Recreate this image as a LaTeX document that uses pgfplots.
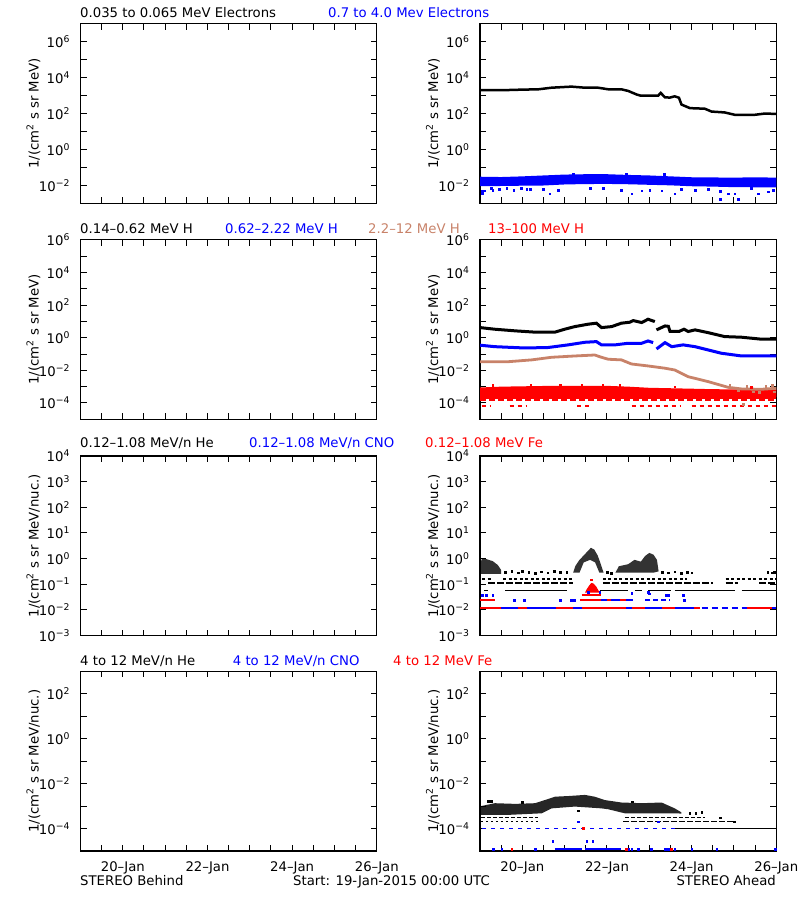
\documentclass[border=0pt]{standalone}
\usepackage{fontspec}
\setmainfont{DejaVu Sans}
\usepackage{pgfplots}
\pgfplotsset{compat=1.18}
\definecolor{tanc}{RGB}{200,130,105}
\newcommand{\tp}[1]{10\textsuperscript{#1}}
\newcommand{\myfs}{\fontsize{13.3}{16}\selectfont}
\begin{document}
\begin{tikzpicture}
\path[use as bounding box] (0bp,0bp) rectangle (800bp,900bp);
% ---------- left column (STEREO Behind, no data) ----------
\begin{axis}[at={(80.5bp,696.7bp)}, scale only axis, width=296.3bp, height=179.5bp, anchor=south west,
    xmin=0, xmax=7, ymode=log, ymin=1e-3, ymax=1e7, yminorticks=false, xminorticks=false,
    axis line style={line width=1.2bp}, tick style={black, line width=1bp}, major tick length=6bp,
    xtick={0.5,1,1.5,2,2.5,3,3.5,4,4.5,5,5.5,6,6.5,7}, xticklabels={},
    ytick={1e-2,1e-1,1,10,100,1e3,1e4,1e5,1e6},
    yticklabels={\tp{−2},,\tp{0},,\tp{2},,\tp{4},,\tp{6}},
    tick label style={font=\myfs}, yticklabel style={xshift=-7bp},
    ylabel={1/(cm\textsuperscript{2} s sr MeV)},
    ylabel style={at={(axis description cs:-0.1586,0.5)}, anchor=center, font=\myfs}]
\end{axis}
\begin{axis}[at={(80.5bp,480.7bp)}, scale only axis, width=296.3bp, height=179.5bp, anchor=south west,
    xmin=0, xmax=7, ymode=log, ymin=1e-5, ymax=1e6, yminorticks=false, xminorticks=false,
    axis line style={line width=1.2bp}, tick style={black, line width=1bp}, major tick length=6bp,
    xtick={0.5,1,1.5,2,2.5,3,3.5,4,4.5,5,5.5,6,6.5,7}, xticklabels={},
    ytick={1e-4,1e-3,1e-2,1e-1,1,10,100,1e3,1e4,1e5,1e6},
    yticklabels={\tp{−4},,\tp{−2},,\tp{0},,\tp{2},,\tp{4},,\tp{6}},
    tick label style={font=\myfs}, yticklabel style={xshift=-7bp},
    ylabel={1/(cm\textsuperscript{2} s sr MeV)},
    ylabel style={at={(axis description cs:-0.1586,0.5)}, anchor=center, font=\myfs}]
\end{axis}
\begin{axis}[at={(80.5bp,264.5bp)}, scale only axis, width=296.3bp, height=179.5bp, anchor=south west,
    xmin=0, xmax=7, ymode=log, ymin=1e-3, ymax=1e4, yminorticks=false, xminorticks=false,
    axis line style={line width=1.2bp}, tick style={black, line width=1bp}, major tick length=6bp,
    xtick={0.5,1,1.5,2,2.5,3,3.5,4,4.5,5,5.5,6,6.5,7}, xticklabels={},
    ytick={1e-3,1e-2,1e-1,1,10,100,1e3,1e4},
    yticklabels={\tp{−3},\tp{−2},\tp{−1},\tp{0},\tp{1},\tp{2},\tp{3},\tp{4}},
    tick label style={font=\myfs}, yticklabel style={xshift=-7bp},
    ylabel={1/(cm\textsuperscript{2} s sr MeV/nuc.)},
    ylabel style={at={(axis description cs:-0.1586,0.5)}, anchor=center, font=\myfs}]
\end{axis}
\begin{axis}[at={(80.5bp,49bp)}, scale only axis, width=296.3bp, height=179.5bp, anchor=south west,
    xmin=0, xmax=7, ymode=log, ymin=1e-5, ymax=1e3, yminorticks=false, xminorticks=false,
    axis line style={line width=1.2bp}, tick style={black, line width=1bp}, major tick length=6bp,
    xtick={0.5,1,1.5,2,2.5,3,3.5,4,4.5,5,5.5,6,6.5,7},
    xticklabels={,20–Jan,,,,22–Jan,,,,24–Jan,,,,26–Jan}, xticklabel style={yshift=-7bp},
    ytick={1e-4,1e-3,1e-2,1e-1,1,10,100},
    yticklabels={\tp{−4},,\tp{−2},,\tp{0},,\tp{2}},
    tick label style={font=\myfs}, yticklabel style={xshift=-7bp},
    ylabel={1/(cm\textsuperscript{2} s sr MeV/nuc.)},
    ylabel style={at={(axis description cs:-0.1586,0.5)}, anchor=center, font=\myfs}]
\end{axis}
% ---------- right column: electrons ----------
\begin{axis}[at={(480bp,696.7bp)}, scale only axis, width=296.3bp, height=179.5bp, anchor=south west,
    xmin=0, xmax=7, ymode=log, ymin=1e-3, ymax=1e7, yminorticks=false, xminorticks=false,
    axis line style={line width=1.2bp}, tick style={black, line width=1bp}, major tick length=6bp,
    xtick={0.5,1,1.5,2,2.5,3,3.5,4,4.5,5,5.5,6,6.5,7}, xticklabels={},
    ytick={1e-2,1e-1,1,10,100,1e3,1e4,1e5,1e6},
    yticklabels={\tp{−2},,\tp{0},,\tp{2},,\tp{4},,\tp{6}},
    tick label style={font=\myfs}, yticklabel style={xshift=-7bp},
    ylabel={1/(cm\textsuperscript{2} s sr MeV)},
    ylabel style={at={(axis description cs:-0.1586,0.5)}, anchor=center, font=\myfs}]
\addplot[draw=none, fill=blue] coordinates {(0,0.0302)(0.5,0.029)(1,0.0316)(1.5,0.0355)(2,0.0398)(2.5,0.0417)(3,0.0417)(3.5,0.038)(4,0.0355)(4.5,0.0316)(5,0.0282)(5.5,0.0275)(6,0.0269)(6.5,0.028)(7,0.0269)
 (7,0.00759)(6.5,0.0078)(6,0.00794)(5.5,0.0085)(5,0.00891)(4.5,0.01)(4,0.0107)(3.5,0.0115)(3,0.012)(2.5,0.0118)(2,0.0112)(1.5,0.0098)(1,0.00955)(0.5,0.0092)(0,0.00891)};
\addplot[only marks, mark=square*, mark size=0.8bp, blue] coordinates {(0.05,0.0048)(0.05,0.0034)(0.1,0.005)(0.26,0.0068)(0.3,0.0055)(0.45,0.006)(0.63,0.0068)(0.8,0.0055)(0.98,0.0068)(1.1,0.006)(1.18,0.0062)(1.5,0.0062)(1.65,0.0034)(1.85,0.0055)(2.6,0.0068)(2.91,0.0068)(3.34,0.0055)(3.58,0.0034)(3.82,0.005)(4.01,0.0055)(4.29,0.005)(4.6,0.0034)(4.76,0.0062)(5.08,0.0055)(5.39,0.0062)(5.67,0.0048)(5.67,0.00174)(5.86,0.0034)(6.02,0.0034)(6.1,0.00174)(6.41,0.0068)(6.57,0.0034)(6.81,0.0044)(6.92,0.0055)(3.45,0.044)(2.2,0.045)(4.35,0.043)};
\addplot[black, line width=2.5bp] coordinates {(0,2040)(0.67,2040)(0.98,2140)(1.38,2240)(1.69,2750)(2.16,3160)(2.48,2750)(2.79,2750)(3.03,2240)(3.34,2240)(3.5,1820)(3.7,1150)(3.79,1000)(4.21,1000)(4.27,1410)(4.37,794)(4.49,776)(4.6,912)(4.7,759)(4.76,316)(4.84,263)(4.96,200)(5.31,186)(5.47,129)(5.78,115)(6.02,85)(6.49,85)(6.73,100)(7.0,95)};
\end{axis}
% ---------- right column: protons ----------
\begin{axis}[at={(480bp,480.7bp)}, scale only axis, width=296.3bp, height=179.5bp, anchor=south west,
    xmin=0, xmax=7, ymode=log, ymin=1e-5, ymax=1e6, yminorticks=false, xminorticks=false,
    axis line style={line width=1.2bp}, tick style={black, line width=1bp}, major tick length=6bp,
    xtick={0.5,1,1.5,2,2.5,3,3.5,4,4.5,5,5.5,6,6.5,7}, xticklabels={},
    ytick={1e-4,1e-3,1e-2,1e-1,1,10,100,1e3,1e4,1e5,1e6},
    yticklabels={\tp{−4},,\tp{−2},,\tp{0},,\tp{2},,\tp{4},,\tp{6}},
    tick label style={font=\myfs}, yticklabel style={xshift=-7bp},
    ylabel={1/(cm\textsuperscript{2} s sr MeV)},
    ylabel style={at={(axis description cs:-0.1586,0.5)}, anchor=center, font=\myfs},
    unbounded coords=jump]
\addplot[draw=none, fill=red] coordinates {(0,0.00089)(0.5,0.001)(1,0.00105)(1.5,0.0011)(2,0.00112)(2.5,0.0011)(3,0.00112)(3.5,0.001)(4,0.00085)(4.5,0.0008)(5,0.00075)(5.5,0.0007)(6,0.00068)(6.5,0.00068)(7,0.00068)(7,0.00023)(0,0.00023)};
\addplot[red, line width=1.5bp] coordinates {(0,0.0002)(7,0.0002)};
\addplot[red, line width=1.2bp, dash pattern=on 6bp off 3bp] coordinates {(0,0.000152)(7,0.000152)};
\addplot[red, line width=1.2bp, dash pattern=on 4bp off 4bp] coordinates {(0.04,0.000066)(0.27,0.000066)(0.3,nan)(0.7,0.000066)(1.1,0.000066)(1.12,nan)(2.3,0.000066)(2.6,0.000066)(2.62,nan)(3.58,0.000066)(4.75,0.000066)(4.77,nan)(5.0,0.000066)(7,0.000066)};
\addplot[only marks, mark=square*, mark size=0.8bp, red] coordinates {(0.3,0.00125)(1.2,0.0013)(1.9,0.0013)(2.4,0.00125)(2.9,0.0013)(3.3,0.0012)(4.6,0.001)(6.4,0.0009)};
\addplot[tanc, line width=2.8bp] coordinates {(0,0.0339)(0.67,0.0339)(1.22,0.0437)(1.69,0.0631)(2.24,0.0759)(2.71,0.0871)(2.87,0.0631)(3.03,0.0479)(3.34,0.0437)(3.58,0.0245)(3.97,0.0186)(4.37,0.0135)(4.6,0.0105)(4.92,0.00407)(5.39,0.00204)(5.86,0.000912)(6.18,0.000724)(6.65,0.000692)(7.0,0.000794)};
\addplot[only marks, mark=square*, mark size=0.8bp, tanc] coordinates {(5.9,0.0012)(6.1,0.00055)(6.3,0.0011)(6.45,0.0005)(6.6,0.00045)(6.75,0.0011)(6.9,0.0012)(6.95,0.0005)(6.22,0.000087)};
\addplot[blue, line width=3bp] coordinates {(0,0.347)(0.35,0.282)(1.06,0.234)(1.61,0.251)(2.08,0.363)(2.48,0.525)(2.75,0.575)(2.87,0.363)(3.19,0.363)(3.5,0.457)(3.82,0.457)(3.97,0.631)(4.09,0.501)(4.13,nan)(4.17,0.204)(4.37,0.501)(4.53,0.282)(4.8,0.363)(5.08,0.282)(5.39,0.178)(5.7,0.112)(6.18,0.0759)(6.65,0.0759)(7.0,0.0759)};
\addplot[black, line width=3bp] coordinates {(0,4.17)(0.35,3.31)(0.83,2.63)(1.3,2.19)(1.77,2.19)(2.0,3.31)(2.24,4.79)(2.56,6.76)(2.75,7.76)(2.87,4.17)(3.11,4.79)(3.34,7.76)(3.54,8.91)(3.62,11.2)(3.82,8.51)(3.97,13.5)(4.13,9.77)(4.15,nan)(4.17,3.02)(4.37,5.25)(4.45,5.0)(4.49,2.4)(4.7,2.4)(4.82,3.31)(4.92,2.4)(5.08,3.02)(5.39,2.04)(5.78,1.17)(6.18,1.07)(6.65,0.81)(7.0,0.81)};
\end{axis}
% ---------- right column: 0.12-1.08 MeV/n ----------
\begin{axis}[at={(480bp,264.5bp)}, scale only axis, width=296.3bp, height=179.5bp, anchor=south west,
    xmin=0, xmax=7, ymode=log, ymin=1e-3, ymax=1e4, yminorticks=false, xminorticks=false,
    axis line style={line width=1.2bp}, tick style={black, line width=1bp}, major tick length=6bp,
    xtick={0.5,1,1.5,2,2.5,3,3.5,4,4.5,5,5.5,6,6.5,7}, xticklabels={},
    ytick={1e-3,1e-2,1e-1,1,10,100,1e3,1e4},
    yticklabels={\tp{−3},\tp{−2},\tp{−1},\tp{0},\tp{1},\tp{2},\tp{3},\tp{4}},
    tick label style={font=\myfs}, yticklabel style={xshift=-7bp},
    ylabel={1/(cm\textsuperscript{2} s sr MeV/nuc.)},
    ylabel style={at={(axis description cs:-0.1586,0.5)}, anchor=center, font=\myfs},
    unbounded coords=jump]
\addplot[draw=none, fill=black, fill opacity=0.8] coordinates {(0,0.631)(0.05,1)(0.15,0.955)(0.3,0.794)(0.42,0.562)(0.5,0.355)(0.5,0.251)(0,0.251)};
\addplot[draw=none, fill=black, fill opacity=0.8] coordinates {(2.2,0.282)(2.25,0.501)(2.35,0.891)(2.45,1.318)(2.55,1.995)(2.62,2.63)(2.7,2.24)(2.78,1.318)(2.85,0.631)(2.92,0.282)(2.82,0.282)(2.72,0.708)(2.6,0.891)(2.45,0.708)(2.35,0.282)};
\addplot[draw=none, fill=black, fill opacity=0.8] coordinates {(3.2,0.282)(3.28,0.501)(3.5,0.603)(3.65,0.891)(3.8,0.759)(3.9,1.259)(4.0,1.66)(4.1,1.413)(4.18,0.891)(4.22,0.316)(4.1,0.282)};
\addplot[only marks, mark=square*, mark size=0.8bp, black] coordinates {(0.6,0.3)(0.75,0.33)(0.9,0.28)(1.0,0.32)(1.15,0.3)(1.3,0.27)(1.45,0.31)(1.6,0.28)(1.75,0.33)(1.9,0.3)(2.05,0.29)(4.3,0.3)(4.45,0.28)(4.6,0.31)(4.75,0.27)(4.9,0.3)(5.0,0.28)(6.8,0.3)(6.9,0.28)(6.95,0.3)(3.0,0.3)(3.1,0.27)};
\addplot[black, line width=1.6bp, dash pattern=on 3bp off 2.5bp] coordinates {(0.05,0.158)(0.3,0.158)(0.32,nan)(0.55,0.158)(2.2,0.158)(2.22,nan)(2.9,0.158)(4.9,0.158)(4.92,nan)(5.8,0.158)(7,0.158)};
\addplot[black, line width=1.6bp, dash pattern=on 7bp off 2bp] coordinates {(0.2,0.11)(2.2,0.11)(2.22,nan)(2.9,0.11)(5.5,0.11)(5.52,nan)(5.8,0.11)(6.1,0.11)(6.12,nan)(6.6,0.11)(7,0.11)};
\addplot[black, line width=1.6bp] coordinates {(0.1,0.056)(0.2,0.056)(0.22,nan)(0.6,0.056)(2.05,0.056)(2.07,nan)(2.83,0.056)(3.5,0.056)(3.52,nan)(3.66,0.056)(3.82,0.056)(3.84,nan)(3.97,0.056)(4.52,0.056)(4.54,nan)(4.6,0.056)(6.02,0.056)(6.04,nan)(6.18,0.056)(7,0.056)};
\addplot[blue, line width=1.6bp] coordinates {(0,0.012)(5.0,0.012)};
\addplot[blue, line width=1.6bp, dash pattern=on 6bp off 4bp] coordinates {(5.0,0.012)(7,0.012)};
\addplot[red, line width=1.6bp] coordinates {(0,0.012)(0.5,0.012)(0.52,nan)(0.9,0.012)(1.1,0.012)(1.12,nan)(1.8,0.012)(2.2,0.012)(2.22,nan)(2.4,0.012)(3.45,0.012)(3.47,nan)(3.6,0.012)(3.9,0.012)(3.92,nan)(4.3,0.012)(4.6,0.012)(4.62,nan)(5.05,0.012)(5.2,0.012)(5.22,nan)(6.3,0.012)(6.9,0.012)};
\addplot[red, line width=1.6bp] coordinates {(0,0.024)(0.35,0.024)(0.37,nan)(2.36,0.024)(2.87,0.024)(2.89,nan)(3.0,0.024)(3.1,0.024)(3.12,nan)(3.3,0.024)(3.45,0.024)};
\addplot[blue, line width=1.6bp] coordinates {(2.87,0.024)(3.0,0.024)(3.02,nan)(3.1,0.024)(3.3,0.024)(3.32,nan)(3.45,0.024)(3.62,0.024)};
\addplot[blue, line width=1.6bp, dash pattern=on 5bp off 3bp] coordinates {(3.9,0.024)(4.5,0.024)};
\addplot[only marks, mark=square*, mark size=0.8bp, blue] coordinates {(0.81,0.024)(1.05,0.024)(1.89,0.024)(2.15,0.024)(2.22,0.024)(4.82,0.024)(0.05,0.038)(0.15,0.038)(0.3,0.038)(3.58,0.045)(3.97,0.05)(4.0,0.042)(4.4,0.038)(4.45,0.038)(4.8,0.038)(2.56,0.05)(2.83,0.05)};
\addplot[draw=none, fill=red] coordinates {(2.48,0.0468)(2.52,0.063)(2.58,0.0891)(2.63,0.112)(2.68,0.107)(2.75,0.0794)(2.8,0.0562)(2.83,0.0468)};
\addplot[red, line width=1.2bp] coordinates {(2.4,0.038)(2.85,0.038)};
\addplot[only marks, mark=square*, mark size=0.8bp, red] coordinates {(2.62,0.151)};
\end{axis}
% ---------- right column: 4-12 MeV/n ----------
\begin{axis}[at={(480bp,49bp)}, scale only axis, width=296.3bp, height=179.5bp, anchor=south west,
    xmin=0, xmax=7, ymode=log, ymin=1e-5, ymax=1e3, yminorticks=false, xminorticks=false,
    axis line style={line width=1.2bp}, tick style={black, line width=1bp}, major tick length=6bp,
    xtick={0.5,1,1.5,2,2.5,3,3.5,4,4.5,5,5.5,6,6.5,7},
    xticklabels={,20–Jan,,,,22–Jan,,,,24–Jan,,,,26–Jan}, xticklabel style={yshift=-7bp},
    ytick={1e-4,1e-3,1e-2,1e-1,1,10,100},
    yticklabels={\tp{−4},,\tp{−2},,\tp{0},,\tp{2}},
    tick label style={font=\myfs}, yticklabel style={xshift=-7bp},
    ylabel={1/(cm\textsuperscript{2} s sr MeV/nuc.)},
    ylabel style={at={(axis description cs:-0.1586,0.5)}, anchor=center, font=\myfs},
    unbounded coords=jump]
\addplot[draw=none, fill=black, fill opacity=0.85] coordinates {(0.02,0.001)(0.35,0.00135)(0.83,0.00126)(1.3,0.00135)(1.53,0.00186)(1.77,0.00263)(2.09,0.00282)(2.48,0.00316)(2.71,0.00263)(2.95,0.00186)(3.34,0.00145)(3.82,0.00135)(4.29,0.00145)(4.6,0.000794)(4.76,0.000525)(4.76,0.000468)(4.29,0.000479)(3.42,0.000479)(3.03,0.000724)(2.87,0.000794)(2.24,0.000955)(1.69,0.000794)(1.46,0.000479)(0.67,0.000407)(0.02,0.000407)};
\addplot[only marks, mark=square*, mark size=0.8bp, black] coordinates {(0.2,0.0017)(0.27,0.0017)(2.32,0.00063)(4.95,0.00048)(5.1,0.00048)(5.24,0.00055)(5.67,0.00031)(6.0,0.0002)(1.0,0.0015)(3.6,0.0016)};
\addplot[black, line width=1.5bp, dash pattern=on 4bp off 2bp] coordinates {(0.02,0.000309)(1.38,0.000309)(1.4,nan)(3.42,0.000309)(5.31,0.000309)};
\addplot[black, line width=1.5bp, dash pattern=on 2bp off 3bp] coordinates {(0.02,0.000204)(1.38,0.000204)};
\addplot[black, line width=1.5bp, dash pattern=on 6bp off 2bp] coordinates {(3.39,0.000204)(6.02,0.000204)};
\addplot[black, line width=1.5bp] coordinates {(4.6,0.000102)(7,0.000102)};
\addplot[blue, line width=1.5bp, dash pattern=on 4bp off 5bp] coordinates {(0.05,0.000102)(4.6,0.000102)};
\addplot[blue, line width=1.5bp] coordinates {(1.77,0.0000123)(2.4,0.0000123)(2.42,nan)(2.48,0.0000123)(3.34,0.0000123)};
\addplot[only marks, mark=square*, mark size=0.8bp, blue] coordinates {(1.72,0.000028)(2.52,0.000028)(2.66,0.000028)(0.31,0.0000123)(0.51,0.0000123)(1.3,0.0000123)(3.5,0.0000123)(3.58,0.0000123)(3.74,0.0000123)(4.05,0.0000123)(4.37,0.0000123)(4.45,0.0000123)(4.6,0.0000123)(5.0,0.0000123)(5.59,0.0000123)(6.97,0.0000123)(2.32,0.000204)(4.21,0.000204)};
\addplot[only marks, mark=square*, mark size=0.8bp, red] coordinates {(0.75,0.0000123)(3.46,0.0000123)(4.51,0.0000123)(2.44,0.000102)};
\end{axis}
% ---------- titles ----------
\begin{scope}[every node/.style={font=\myfs, inner sep=0pt, anchor=base west}]
\node at (80bp,882bp) {0.035 to 0.065 MeV Electrons};
\node[text=blue] at (328bp,882bp) {0.7 to 4.0 Mev Electrons};
\node at (80bp,666bp) {0.14–0.62 MeV H};
\node[text=blue] at (225bp,666bp) {0.62–2.22 MeV H};
\node[text=tanc] at (368bp,666bp) {2.2–12 MeV H};
\node[text=red] at (488bp,666bp) {13–100 MeV H};
\node at (80bp,452bp) {0.12–1.08 MeV/n He};
\node[text=blue] at (249bp,452bp) {0.12–1.08 MeV/n CNO};
\node[text=red] at (425bp,452bp) {0.12–1.08 MeV Fe};
\node at (80bp,234.5bp) {4 to 12 MeV/n He};
\node[text=blue] at (232.7bp,234.5bp) {4 to 12 MeV/n CNO};
\node[text=red] at (393bp,234.5bp) {4 to 12 MeV Fe};
\node at (80bp,14.5bp) {STEREO Behind};
\node at (293bp,14.5bp) {Start: 19-Jan-2015 00:00 UTC};
\node[anchor=base east] at (776bp,14.5bp) {STEREO Ahead};
\end{scope}
\end{tikzpicture}
\end{document}
